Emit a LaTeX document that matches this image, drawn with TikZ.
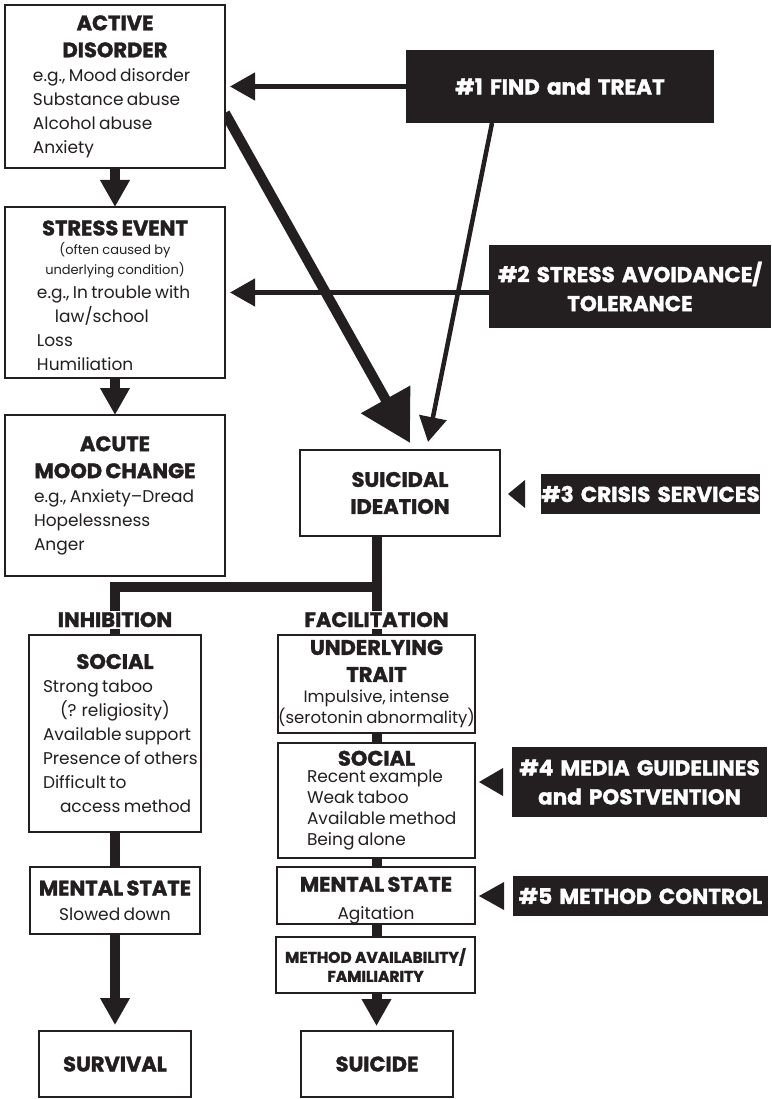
\documentclass[tikz,border=0pt]{standalone}
\usepackage{fontspec}
\setmainfont{Poppins}[BoldFeatures={FakeBold=1.6}]
\usetikzlibrary{arrows.meta,calc,backgrounds}
\definecolor{ink}{HTML}{231F20}
\setlength\parindent{0pt}
\newcommand\hd[1]{{\centering\fontsize{21}{27}\selectfont\bfseries #1\par}}
\newcommand\bd[3][24]{{\raggedright\leftskip=#2pt\relax\fontsize{17}{#1}\selectfont #3\par}}
\newcommand\bdc[3][24]{{\centering\fontsize{#2}{#1}\selectfont #3\par}}
\begin{document}
\begin{tikzpicture}[x=1pt,y=-1pt,
  wbox/.style n args={2}{draw=ink,fill=white,line width=2.5pt,inner sep=0pt,outer sep=0pt,
     minimum width=#1,minimum height=#2,text width=#1,text=ink},
  kbox/.style n args={2}{fill=ink,inner sep=0pt,outer sep=0pt,minimum width=#1,minimum height=#2,
     text width=#1,align=center,text=white,font=\fontsize{21.5}{29}\selectfont\bfseries},
  trunk/.style={draw=ink,line width=10pt,line join=miter},
  fat/.style={draw=ink,line width=10pt,-{Triangle[length=27pt,width=28pt]}},
  bigdiag/.style={draw=ink,line width=10pt,-{Triangle[length=50pt,width=54pt]}},
  slim/.style={draw=ink,line width=4.5pt,-{Triangle[length=25pt,width=27pt]}},
  ptr/.style={fill=ink},
  lab/.style={fill=white,inner sep=1.5pt,text=ink,font=\fontsize{21}{27}\selectfont\bfseries,anchor=base}
]
\useasboundingbox (0,0) rectangle (771,1099);

% left column
\node[wbox={220pt}{163pt}] (AD) at (115,86.5)
  {\hd{ACTIVE\\DISORDER}\bd{28}{e.g., Mood disorder\\Substance abuse\\Alcohol abuse\\Anxiety}};
\node[wbox={220pt}{171pt}] (SE) at (115,292.5)
  {\hd{STRESS EVENT}\bdc[19.5]{13}{(often caused by\\underlying condition)}\bd[24]{32}{e.g., In trouble with\\\mbox{}\hspace{18pt}law/school\\Loss\\Humiliation}\vspace{-6pt}};
\node[wbox={220pt}{161pt}] (AMC) at (115,495.5)
  {\hd{ACUTE\\MOOD CHANGE}\bd{29}{e.g., Anxiety--Dread\\Hopelessness\\Anger}};

\node[wbox={200pt}{86pt}] (SI) at (400,493) {\hd{SUICIDAL\\IDEATION}};

% intervention boxes
\node[kbox={308pt}{73pt}] (FT) at (560,86.5) {\#1 FIND and TREAT};
\node[kbox={282pt}{83pt}] (SA) at (630,286.5) {\#2 STRESS AVOIDANCE/\\TOLERANCE};
\node[kbox={219pt}{40pt}] (CS) at (650.5,494) {\#3 CRISIS SERVICES};
\node[kbox={255pt}{70pt}] (MG) at (639.5,782) {\#4 MEDIA GUIDELINES\\and POSTVENTION};
\node[kbox={255pt}{40pt}] (MC) at (640.5,896) {\#5 METHOD CONTROL};

% inhibition branch
\node[wbox={172pt}{197pt}] (LS) at (115,733.5)
  {\hd{SOCIAL}\bd{14}{Strong taboo\\\mbox{}\hspace{17pt}(? religiosity)\\Available support\\Presence of others\\Difficult to\\\mbox{}\hspace{17pt}access method}};
\node[wbox={170pt}{67pt}] (LMS) at (115,900.5)
  {\hd{MENTAL STATE}\bdc[25]{17}{Slowed down}};
\node[wbox={152pt}{66pt}] (SURV) at (115,1064) {\hd{SURVIVAL}};

% facilitation branch
\node[wbox={197pt}{98pt}] (UT) at (376.5,684)
  {\hd{UNDERLYING\\TRAIT}\bdc[21]{16.5}{Impulsive, intense\\(serotonin abnormality)}};
\node[wbox={197pt}{115pt}] (RS) at (376.5,800.5)
  {\hd{SOCIAL}\vspace{-4pt}\bd[21]{29}{Recent example\\Weak taboo\\Available method\\Being alone}};
\node[wbox={198pt}{57pt}] (RMS) at (376,895.5)
  {\hd{MENTAL STATE}\bdc[28]{17}{Agitation}\vspace{-10pt}};
\node[wbox={199pt}{56pt}] (MA) at (375.5,965)
  {{\centering\fontsize{15.5}{19}\selectfont\bfseries METHOD AVAILABILITY/\\FAMILIARITY\par}};
\node[wbox={152pt}{66pt}] (SUIC) at (377,1064) {\hd{SUICIDE}};

\coordinate (bar) at (0,587);

\begin{pgfonlayer}{background}
  \draw[fat] (AD.south) -- (SE.north);
  \draw[fat] (SE.south) -- (AMC.north);
  \draw[slim,shorten >=5pt] (FT.west) -- (AD.east |- FT.west);
  \draw[slim,shorten >=5pt] (SA.west |- SE.east) -- (SE.east);
  \draw[bigdiag] ($(AD.south east)+(0,-55)$) -- ($(SI.north)+(10,-7)$);
  \draw[slim] ($(FT.south)+(-68,0)$) -- ($(SI.north)+(28,-8)$);
  \draw[trunk] (UT.north |- SI.south) -- (UT.north);
  \draw[trunk] (UT.north |- bar) -| (LS.north);
  \draw[trunk] (LS.south) -- (LMS.north);
  \draw[fat,shorten >=6pt] (LMS.south) -- (SURV.north);
  \draw[trunk] (UT.south) -- (RS.north);
  \draw[trunk] (RS.south) -- (RS.south |- RMS.north);
  \draw[trunk] (RS.south |- RMS.south) -- (RS.south |- MA.north);
  \draw[fat,shorten >=5pt] (RS.south |- MA.south) -- (RS.south |- SUIC.north);
\end{pgfonlayer}

% pointers from the intervention boxes
\fill[ptr] ($(SI.east |- CS.west)+(8,0)$) -- ++(17,-14) -- ++(0,28) -- cycle;
\fill[ptr] ($(RS.east |- MG.west)+(4,0)$) -- ++(24,-14) -- ++(0,28) -- cycle;
\fill[ptr] ($(RMS.east |- MC.west)+(4,0)$) -- ++(25,-14) -- ++(0,28) -- cycle;

\node[lab] (INH) at (115,627) {INHIBITION};
\node[lab] (FAC) at (376.5,627) {FACILITATION};
\end{tikzpicture}
\end{document}
